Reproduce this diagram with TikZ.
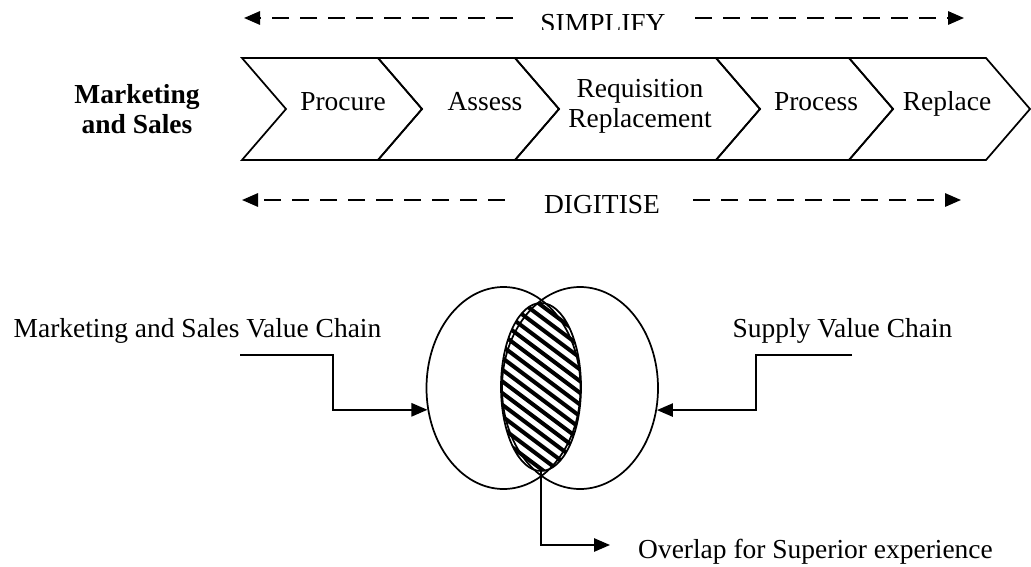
\documentclass[tikz,border=0pt]{standalone}
\usepackage{fontspec}
\setmainfont{Liberation Serif}
\usetikzlibrary{arrows.meta,shapes.geometric}

\begin{document}
\begin{tikzpicture}[x=0.75pt,y=-0.75pt,
  every node/.style={font=\fontsize{20.6}{22.5}\selectfont, inner sep=0pt},
  chev/.style={draw, line width=1.3pt, line join=miter},
  dasharrow/.style={line width=1.5pt, dash pattern=on 13pt off 8pt,
    -{Triangle[length=12pt,width=10pt]}},
  conn/.style={line width=1.3pt, -{Triangle[length=12pt,width=10pt]}},
  blob/.style={draw, ellipse, line width=1.3pt},
  hatchline/.style={line width=3pt}
]
\path[use as bounding box] (0,0) rectangle (1031,567);

% ---- process chevrons ----
\foreach \a/\b in {242/378, 378/515, 515/716, 716/849, 849/986}
  \draw[chev] (\a,58) -- (\b,58) -- ({\b+44},109) -- (\b,160) -- (\a,160) -- ({\a+44},109) -- cycle;

\node[font=\fontsize{20.6}{22}\selectfont\bfseries, align=center] (ms) at (137,109) {Marketing\\and Sales};
\node[anchor=base] (procure) at (343,110) {Procure};
\node[anchor=base] (assess) at (485,110) {Assess};
\node[align=center] (req) at (640,106) {Requisition\\Replacement};
\node[anchor=base] (process) at (816,110) {Process};
\node[anchor=base] (replace) at (947,110) {Replace};

% ---- simplify / digitise arrows ----
\begin{scope}
  \clip (500,0) rectangle (720,30);
  \node[anchor=base] (simplify) at (603,33) {SIMPLIFY};
\end{scope}
\node[anchor=base] (digitise) at (602,213) {DIGITISE};

\coordinate (s1) at (513,18);  \coordinate (s1t) at (244,18);
\coordinate (s2) at (695,18);  \coordinate (s2t) at (964,18);
\coordinate (d1) at (505,200); \coordinate (d1t) at (242,200);
\coordinate (d2) at (693,200); \coordinate (d2t) at (961,200);
\draw[dasharrow] (s1) -- (s1t);
\draw[dasharrow] (s2) -- (s2t);
\draw[dasharrow] (d1) -- (d1t);
\draw[dasharrow] (d2) -- (d2t);

% ---- overlapping value chains ----
\node[blob, minimum width=115.5pt, minimum height=151.5pt] (lefte) at (503.5,388) {};
\node[blob, minimum width=117pt, minimum height=151.5pt] (righte) at (580,388) {};

\begin{scope}
  \clip (541,387) ellipse [x radius=30pt, y radius=63pt];
  \foreach \k in {-11,...,11}
    \draw[hatchline] (480,{341.25+11.7*\k}) -- (600,{431.25+11.7*\k});
\end{scope}
\node[blob, minimum width=60pt, minimum height=126pt] (overlap) at (541,387) {};

\node[anchor=base] (mvc) at (197.5,337) {Marketing and Sales Value Chain};
\node[anchor=base] (svc) at (842.5,337) {Supply Value Chain};
\node[anchor=base] (ose) at (815.5,558) {Overlap for Superior experience};

\coordinate (ls) at (240,355);
\coordinate (rs) at (852,355);
\coordinate (ot) at (610,545);
\draw[conn] (ls) -| ([xshift=-71pt]lefte.196) -- (lefte.196);
\draw[conn] (rs) -| ([xshift=74pt]righte.344) -- (righte.344);
\draw[conn] (overlap.south) |- (ot);
\end{tikzpicture}
\end{document}
